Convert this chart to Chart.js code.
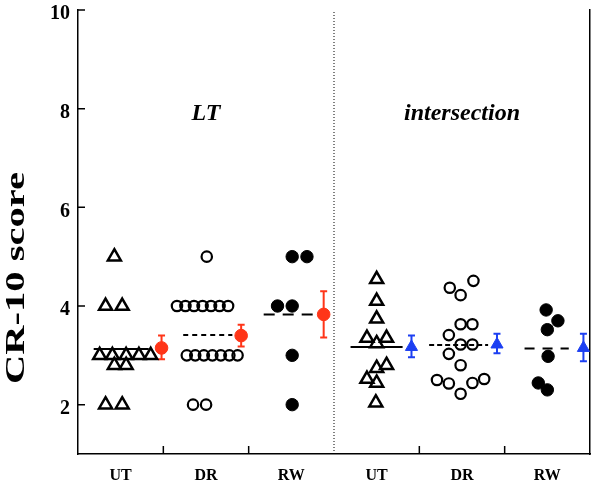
<!DOCTYPE html>
<html><head><meta charset="utf-8">
<script src="https://cdn.jsdelivr.net/npm/chart.js@4.4.1/dist/chart.umd.min.js"></script>
<style>html,body{margin:0;padding:0;background:#fff}#wrap{width:600px;height:484px;position:relative}</style>
</head><body><div id="wrap"><canvas id="c"></canvas></div>
<script>
// ---------- data ----------
const categories = ['UT', 'DR', 'RW', 'UT', 'DR', 'RW'];
const yAxisTitle = 'CR-10 score';
const panelTitles = ['LT', 'intersection'];
const panelTitleX = [1.5, 4.5];
const panelTitleY = 7.9;
const yTicks = [2, 4, 6, 8, 10];
const xBoundaries = [1, 2, 4, 5];
const panelDivider = 3;

// individual CR-10 scores and their horizontal jitter (fraction of category width)
const ltUT   = [5, 4, 4, 3, 3, 3, 3, 3, 2.8, 2.8, 2, 2];
const ltUTdx = [-0.074, -0.177, 0.018, -0.246, -0.097, 0.064, 0.214, 0.352, -0.074, 0.064, -0.177, 0.018];
const ltDR   = [5, 4, 4, 4, 4, 4, 4, 4, 3, 3, 3, 3, 3, 3, 3, 2, 2];
const ltDRdx = [0.009, -0.340, -0.241, -0.141, -0.040, 0.059, 0.159, 0.259, -0.225, -0.126, -0.025, 0.075, 0.174, 0.274, 0.370, -0.152, 0.001];
const ltRW   = [5, 5, 4, 4, 3, 2];
const ltRWdx = [0.010, 0.183, -0.162, 0.010, 0.010, 0.010];
const inUT   = [4.54, 4.10, 3.74, 3.35, 3.35, 3.24, 2.80, 2.74, 2.52, 2.44, 2.04];
const inUTdx = [0, 0, 0, -0.114, 0.116, 0, 0.116, 0, -0.114, 0, -0.010];
const inDR   = [4.51, 4.37, 4.22, 3.63, 3.63, 3.41, 3.22, 3.22, 3.03, 2.80, 2.50, 2.43, 2.44, 2.52, 2.22];
const inDRdx = [0.134, -0.143, -0.016, -0.016, 0.122, -0.154, -0.016, 0.122, -0.154, -0.016, -0.293, -0.154, 0.122, 0.260, -0.016];
const inRW   = [3.92, 3.70, 3.52, 2.98, 2.44, 2.30];
const inRWdx = [-0.014, 0.124, 0, 0.009, -0.106, 0];

// group mean lines (value, start and end offsets within category)
const groupMean     = [3.13, 3.41, 3.83, 3.17, 3.21, 3.14];
const groupMeanFrom = [-0.316, -0.267, -0.324, -0.306, -0.385, -0.267];
const groupMeanTo   = [0.329, 0.309, 0.252, 0.304, 0.306, 0.251];

// summary markers: mean with error bar
const summaryMean = [3.15, 3.40, 3.83, 3.17, 3.22, 3.15];
const summaryLow  = [2.92, 3.18, 3.36, 2.96, 3.04, 2.88];
const summaryHigh = [3.40, 3.62, 4.30, 3.40, 3.44, 3.44];
const summaryDx   = [0.479, 0.412, 0.379, 0.408, 0.410, 0.423];

// ---------- styles ----------
const RED = '#ff3518';
const BLUE = '#1c3ff2';
const SERIF = '"Liberation Serif", "Times New Roman", serif';
const meanDash = [[], [5, 4], [11, 8], [], [5, 3], [10, 8]];

function pts(cat, ys, dxs) { return ys.map((y, i) => ({ x: cat + 0.5 + dxs[i], y })); }

const groups = [
  { cat: 0, y: ltUT, dx: ltUTdx, style: 'triangle', r: 7.5, bw: 2.5, fill: false },
  { cat: 1, y: ltDR, dx: ltDRdx, style: 'circle', r: 5.2, bw: 2.2, fill: false },
  { cat: 2, y: ltRW, dx: ltRWdx, style: 'circle', r: 6.2, bw: 1, fill: true },
  { cat: 3, y: inUT, dx: inUTdx, style: 'triangle', r: 7.5, bw: 2.5, fill: false },
  { cat: 4, y: inDR, dx: inDRdx, style: 'circle', r: 5.2, bw: 2.2, fill: false },
  { cat: 5, y: inRW, dx: inRWdx, style: 'circle', r: 6.2, bw: 1, fill: true },
];

const datasets = [];
datasets.push({
  type: 'line', data: [{ x: panelDivider, y: 1 }, { x: panelDivider, y: 10 }],
  borderColor: '#000', borderWidth: 1, borderDash: [1, 2], pointRadius: 0, showLine: true, order: 10
});
groups.forEach(g => {
  datasets.push({
    type: 'scatter', data: pts(g.cat, g.y, g.dx),
    pointStyle: g.style, pointRadius: g.r, pointHoverRadius: g.r,
    pointBorderWidth: g.bw, borderColor: '#000',
    backgroundColor: g.fill ? '#000' : 'rgba(0,0,0,0)', order: 5
  });
});
groupMean.forEach((m, i) => {
  datasets.push({
    type: 'line', data: [{ x: i + 0.5 + groupMeanFrom[i], y: m }, { x: i + 0.5 + groupMeanTo[i], y: m }],
    borderColor: '#000', borderWidth: 2, borderDash: meanDash[i], pointRadius: 0, showLine: true, order: 4
  });
});
summaryMean.forEach((m, i) => {
  const col = i < 3 ? RED : BLUE;
  datasets.push({
    type: 'scatter', data: [{ x: i + 0.5 + summaryDx[i], y: m }],
    errLow: [summaryLow[i]], errHigh: [summaryHigh[i]],
    pointStyle: i < 3 ? 'circle' : 'triangle', pointRadius: i < 3 ? 6.3 : 7,
    pointBorderWidth: 1, borderColor: col, backgroundColor: col, order: 1
  });
});

// ---------- plugins ----------
const errorBars = {
  id: 'errorBars',
  beforeDatasetsDraw(chart) {
    const { ctx, scales: { x, y } } = chart;
    chart.data.datasets.forEach(ds => {
      if (!ds.errLow) return;
      ds.data.forEach((p, k) => {
        const px = x.getPixelForValue(p.x);
        const lo = y.getPixelForValue(ds.errLow[k]);
        const hi = y.getPixelForValue(ds.errHigh[k]);
        ctx.save();
        ctx.strokeStyle = ds.borderColor; ctx.lineWidth = 2;
        ctx.beginPath();
        ctx.moveTo(px, lo); ctx.lineTo(px, hi);
        ctx.moveTo(px - 3.5, lo); ctx.lineTo(px + 3.5, lo);
        ctx.moveTo(px - 3.5, hi); ctx.lineTo(px + 3.5, hi);
        ctx.stroke();
        ctx.restore();
      });
    });
  }
};
const frameAndText = {
  id: 'frameAndText',
  afterDraw(chart) {
    const { ctx, scales: { x, y }, chartArea: a } = chart;
    ctx.save();
    ctx.strokeStyle = '#000'; ctx.lineWidth = 1.5;
    ctx.beginPath();
    yTicks.forEach(v => { const py = y.getPixelForValue(v); ctx.moveTo(a.left, py); ctx.lineTo(a.left + 7, py); });
    xBoundaries.forEach(v => { const px = x.getPixelForValue(v); ctx.moveTo(px, a.bottom); ctx.lineTo(px, a.bottom - 8); });
    ctx.stroke();
    ctx.fillStyle = '#000';
    ctx.font = 'italic bold 24px ' + SERIF;
    ctx.textAlign = 'center'; ctx.textBaseline = 'middle';
    panelTitles.forEach((t, i) => ctx.fillText(t, x.getPixelForValue(panelTitleX[i]), y.getPixelForValue(panelTitleY)));
    // y-axis title (tall, stretched along its direction like the reference)
    ctx.save();
    ctx.translate(a.left - 54, a.top + 268);
    ctx.rotate(-Math.PI / 2);
    ctx.scale(1.5, 1);
    ctx.font = 'bold 27px ' + SERIF;
    ctx.textAlign = 'center'; ctx.textBaseline = 'alphabetic';
    ctx.fillText(yAxisTitle, 0, 0);
    ctx.restore();
    ctx.restore();
  }
};

new Chart(document.getElementById('c'), {
  data: { datasets },
  plugins: [errorBars, frameAndText],
  options: {
    responsive: true, maintainAspectRatio: false, animation: false,
    layout: { padding: { top: 5, right: 1, left: 0, bottom: 0 } },
    plugins: { legend: { display: false }, tooltip: { enabled: false } },
    scales: {
      x: {
        type: 'linear', min: 0, max: 6,
        afterBuildTicks: s => { s.ticks = categories.map((c, i) => ({ value: i + 0.5 })); },
        afterFit: s => { s.height = 30; s.paddingLeft = 0; s.paddingRight = 0; },
        ticks: { callback: (v, i) => categories[i], autoSkip: false, maxRotation: 0, padding: 12,
                 color: '#000', font: { family: SERIF, size: 16, weight: 'bold' } },
        grid: { display: false, drawTicks: false },
        border: { display: true, color: '#000', width: 1.5 }
      },
      y: {
        type: 'linear', min: 1, max: 10,
        afterBuildTicks: s => { s.ticks = yTicks.map(v => ({ value: v })); },
        afterFit: s => { s.width = 78; s.paddingTop = 0; s.paddingBottom = 0; },
        ticks: { padding: 8, labelOffset: 4, color: '#000', font: { family: SERIF, size: 20, weight: 'bold' } },
        grid: { display: false, drawTicks: false },
        border: { display: true, color: '#000', width: 1.5 }
      },
      y2: {
        type: 'linear', position: 'right', min: 1, max: 10,
        afterFit: s => { s.width = 0; s.paddingTop = 0; s.paddingBottom = 0; },
        ticks: { display: false }, grid: { display: false, drawTicks: false },
        border: { display: true, color: '#000', width: 1.5 }
      }
    }
  }
});
</script></body></html>
